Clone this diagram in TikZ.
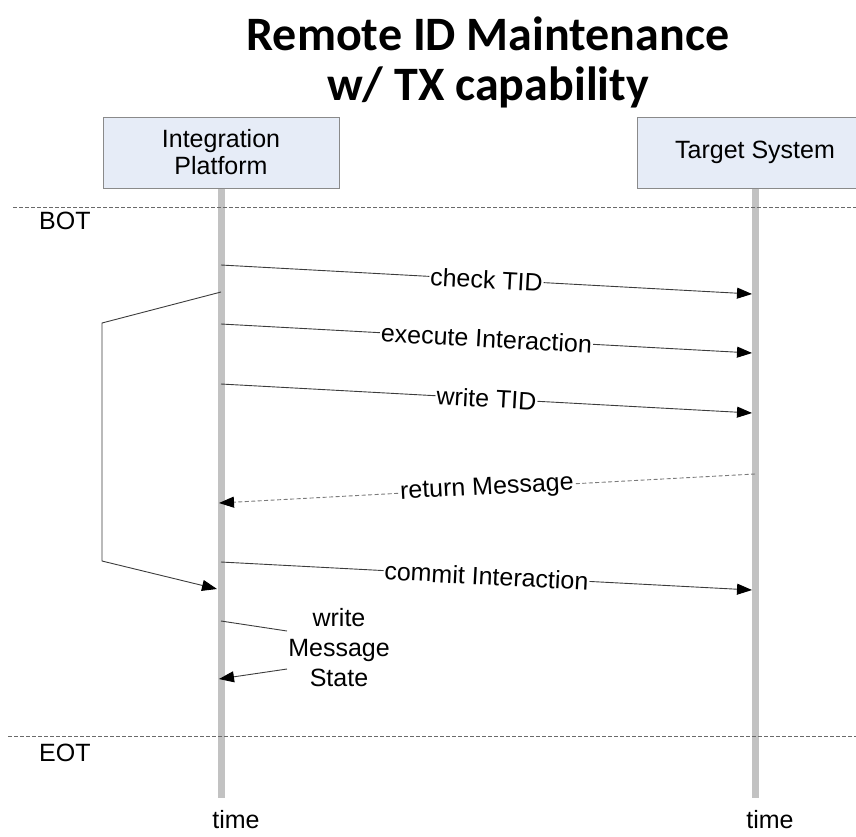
\documentclass[tikz,border=0pt]{standalone}
\usepackage{fontspec}
\setmainfont{Liberation Sans}
\newfontfamily\titlefont{Carlito}
\usetikzlibrary{arrows.meta}
\definecolor{boxfill}{HTML}{E6ECF7}
\definecolor{boxborder}{HTML}{8A8A8A}
\definecolor{lifegray}{HTML}{C2C2C2}
\definecolor{msggray}{HTML}{3C3C3C}
\definecolor{retgray}{HTML}{7A7A7A}
\definecolor{phasegray}{HTML}{6A6A6A}
\begin{document}
\begin{tikzpicture}[x=1pt,y=-1pt,
  lifebox/.style={draw=boxborder, fill=boxfill, line width=1pt,
    minimum width=236pt, minimum height=71pt, inner sep=0pt,
    align=center, font=\fontsize{25}{27}\selectfont},
  lifeline/.style={draw=lifegray, line width=7pt},
  phase/.style={draw=phasegray, line width=0.8pt, dash pattern=on 4pt off 2pt},
  tip/.style={-{Triangle[length=15pt,width=11pt,color=black,fill=black]}},
  msg/.style={draw=msggray, line width=0.9pt, tip},
  ret/.style={draw=retgray, line width=0.9pt, dash pattern=on 4pt off 2.5pt, tip},
  lbl/.style={fill=white, inner sep=1pt, sloped, font=\fontsize{25}{27}\selectfont},
  plain/.style={inner sep=0pt, font=\fontsize{25}{27}\selectfont},
  heading/.style={inner sep=0pt, anchor=base, font=\titlefont\bfseries\fontsize{48}{50}\selectfont}]

\useasboundingbox (0,0) rectangle (856,836);
\clip (0,0) rectangle (856,836);

% title
\node[heading] (title1) at (488,50) {Remote ID Maintenance};
\node[heading] (title2) at (488,100) {w/ TX capability};

% participants
\node[lifebox] (ip) at (221,152.5) {Integration\\Platform};
\node[lifebox] (ts) at (755,152.5) {Target System};

% lifelines
\coordinate (ipEnd) at (221,798);
\coordinate (tsEnd) at (755,798);
\draw[lifeline] (ip.south) -- (ipEnd);
\draw[lifeline] (ts.south) -- (tsEnd);
\node[plain] (ipTime) at (236,820) {time};
\node[plain] (tsTime) at (770,820) {time};

% transaction borders
\coordinate (botL) at (13,207);
\coordinate (botR) at (856,207);
\coordinate (eotL) at (8,736);
\coordinate (eotR) at (856,736);
\draw[phase] (botL) -- (botR);
\draw[phase] (eotL) -- (eotR);
\node[plain, anchor=west] (bot) at (39,221) {BOT};
\node[plain, anchor=west] (eot) at (39,753) {EOT};

% message end points
\coordinate (m1a) at (221,265);   \coordinate (m1b) at (752,294);
\coordinate (m2a) at (221,324);   \coordinate (m2b) at (752,353);
\coordinate (m3a) at (221,384);   \coordinate (m3b) at (752,413);
\coordinate (m4a) at (755,474);   \coordinate (m4b) at (219,503);
\coordinate (m5a) at (221,562);   \coordinate (m5b) at (752,590);

% messages
\draw[msg] (m1a) -- node[lbl] (l1) {check TID} (m1b);
\draw[msg] (m2a) -- node[lbl] (l2) {execute Interaction} (m2b);
\draw[msg] (m3a) -- node[lbl] (l3) {write TID} (m3b);
\draw[ret] (m4a) -- node[lbl] (l4) {return Message} (m4b);
\draw[msg] (m5a) -- node[lbl] (l5) {commit Interaction} (m5b);

% retry loop back to commit
\coordinate (loopA) at (221,292);
\coordinate (loopB) at (102,323);
\coordinate (loopC) at (102,561);
\coordinate (loopD) at (217,589);
\draw[msg] (loopA) -- (loopB) -- (loopC) -- (loopD);

% self message
\coordinate (wsA) at (221,621);
\coordinate (wsB) at (287,631);
\coordinate (wsC) at (287,669);
\coordinate (wsD) at (219,679);
\node[plain, align=center, font=\fontsize{25}{30}\selectfont] (ws) at (339,648) {write\\Message\\State};
\draw[draw=msggray, line width=0.9pt] (wsA) -- (wsB);
\draw[msg] (wsC) -- (wsD);
\end{tikzpicture}
\end{document}
